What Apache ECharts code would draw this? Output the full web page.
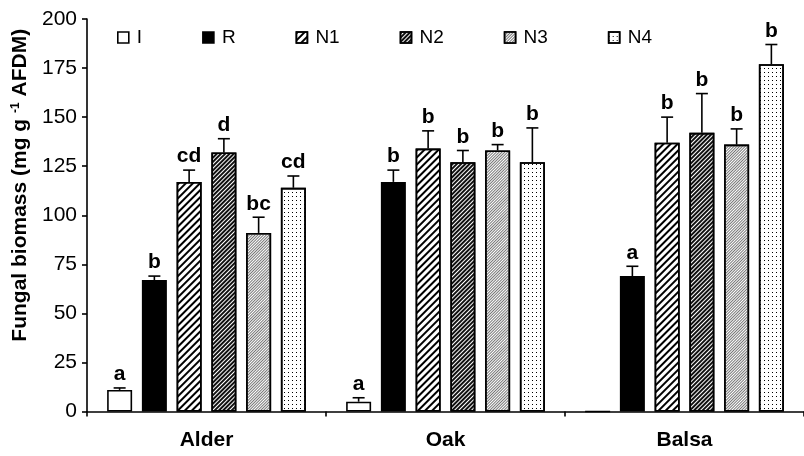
<!DOCTYPE html>
<html>
<head>
<meta charset="utf-8">
<script src="https://cdn.jsdelivr.net/npm/echarts@6/dist/echarts.min.js"></script>
<style>
  html, body { margin: 0; padding: 0; background: #fff; }
  #chart { width: 804px; height: 456px; }
</style>
</head>
<body>
<div id="chart"></div>
<script>
// Wood types along the x axis
const categories = ['Alder', 'Oak', 'Balsa'];
const seriesNames = ['I', 'R', 'N1', 'N2', 'N3', 'N4'];

// Mean fungal biomass per treatment (mg g-1 AFDM)
const valI  = [11, 5, 0];
const valR  = [67, 117, 69];
const valN1 = [117, 134, 137];
const valN2 = [132, 127, 142];
const valN3 = [91, 133, 136];
const valN4 = [114, 127, 177];

// Standard errors (upper bars only)
const errI  = [1, 2, 0];
const errR  = [2, 6, 5];
const errN1 = [6, 9, 13];
const errN2 = [7, 6, 20];
const errN3 = [8, 3, 8];
const errN4 = [6, 17.5, 10];

// Significance letters
const sigI  = ['a', 'a', ''];
const sigR  = ['b', 'b', 'a'];
const sigN1 = ['cd', 'b', 'b'];
const sigN2 = ['d', 'b', 'b'];
const sigN3 = ['bc', 'b', 'b'];
const sigN4 = ['cd', 'b', 'b'];

// Y axis ticks
const yMin = 0, yMax = 200, yStep = 25;

const values = [valI, valR, valN1, valN2, valN3, valN4];
const errors = [errI, errR, errN1, errN2, errN3, errN4];
const letters = [sigI, sigR, sigN1, sigN2, sigN3, sigN4];

const BAR_W = 25;
const BAR_GAP = 0.39;
const FONT = '"Liberation Sans", Arial, Helvetica, sans-serif';

function stripes(width, gap, color) {
  return {
    symbol: 'rect',
    symbolSize: 1,
    dashArrayX: [1, 0],
    dashArrayY: [width, gap],
    rotation: -Math.PI / 4,
    color: color
  };
}

const fills = [
  { color: '#fff' },
  { color: '#000' },
  { color: '#fff', decal: stripes(2, 3, '#000') },
  { color: '#fff', decal: stripes(2, 1, '#111') },
  { color: '#fff', decal: stripes(1, 1, '#777') },
  { color: '#fff', decal: {
      symbol: 'rect', symbolSize: 1,
      dashArrayX: [1, 3], dashArrayY: [1, 3],
      rotation: 0, color: '#000'
  } }
];

const barSeries = seriesNames.map((name, k) => ({
  name: name,
  type: 'bar',
  barWidth: BAR_W,
  barGap: (BAR_GAP * 100) + '%',
  data: values[k],
  itemStyle: Object.assign({ borderColor: '#000', borderWidth: 1.6 }, fills[k]),
  emphasis: { disabled: true },
  z: 2
}));

// Error bars and letters: one row per bar
const errRows = [];
seriesNames.forEach((name, k) => {
  categories.forEach((c, i) => {
    errRows.push([i, k, values[k][i], errors[k][i], letters[k][i]]);
  });
});

const errSeries = {
  type: 'custom',
  data: errRows,
  encode: { x: 0, y: 2 },
  z: 5,
  silent: true,
  renderItem: function (params, api) {
    const cat = api.value(0);
    const k = api.value(1);
    const v = api.value(2);
    const e = api.value(3);
    const txt = errRows[params.dataIndex][4];
    const step = BAR_W * (1 + BAR_GAP);
    const base = api.coord([cat, v]);
    const x = base[0] + (k - 2.5) * step;
    const yTop = api.coord([cat, v + e])[1];
    const children = [];
    if (e > 0) {
      children.push({
        type: 'line',
        shape: { x1: x, y1: base[1], x2: x, y2: yTop },
        style: { stroke: '#000', lineWidth: 1.6 }
      });
      children.push({
        type: 'line',
        shape: { x1: x - 6, y1: yTop, x2: x + 6, y2: yTop },
        style: { stroke: '#000', lineWidth: 1.6 }
      });
    }
    if (txt) {
      children.push({
        type: 'text',
        style: {
          x: x, y: yTop - 3,
          text: txt,
          align: 'center', verticalAlign: 'bottom',
          font: 'bold 21px ' + FONT,
          fill: '#000'
        }
      });
    }
    return { type: 'group', children: children };
  }
};

const chart = echarts.init(document.getElementById('chart'), null, { renderer: 'canvas' });
chart.setOption({
  animation: false,
  backgroundColor: '#fff',
  textStyle: { fontFamily: FONT },
  legend: {
    data: seriesNames,
    icon: 'rect',
    left: 112,
    top: 23,
    itemWidth: 11,
    itemHeight: 11,
    itemGap: 60,
    selectedMode: false,
    textStyle: { fontSize: 19, color: '#000', fontFamily: FONT, padding: [0, 0, 0, 3] },
    itemStyle: { borderColor: '#000', borderWidth: 1.6 }
  },
  grid: { left: 87, top: 19, width: 724.5, height: 392.5 },
  xAxis: {
    type: 'category',
    data: categories,
    axisLine: { lineStyle: { color: '#000', width: 1.6 } },
    axisTick: { show: true, length: 5, lineStyle: { color: '#000', width: 1.6 } },
    axisLabel: { color: '#000', fontSize: 21, fontWeight: 'bold', margin: 18, fontFamily: FONT }
  },
  yAxis: {
    type: 'value',
    min: yMin, max: yMax, interval: yStep,
    axisLine: { show: true, lineStyle: { color: '#000', width: 1.6 } },
    axisTick: { show: true, length: 5, lineStyle: { color: '#000', width: 1.6 } },
    splitLine: { show: false },
    axisLabel: { color: '#000', fontSize: 21, margin: 10, fontFamily: FONT },
    name: '{t|Fungal biomass (mg g }{s|-1}{t| AFDM)}',
    nameLocation: 'middle',
    nameGap: 56,
    nameRotate: 90,
    nameTextStyle: {
      padding: [0, 0, 0, 60],
      rich: {
        t: { fontSize: 21, fontWeight: 'bold', color: '#000', fontFamily: FONT },
        s: { fontSize: 12, fontWeight: 'bold', color: '#000', fontFamily: FONT, padding: [0, 0, 9, 0] }
      }
    }
  },
  series: barSeries.concat([errSeries])
});
</script>
</body>
</html>
